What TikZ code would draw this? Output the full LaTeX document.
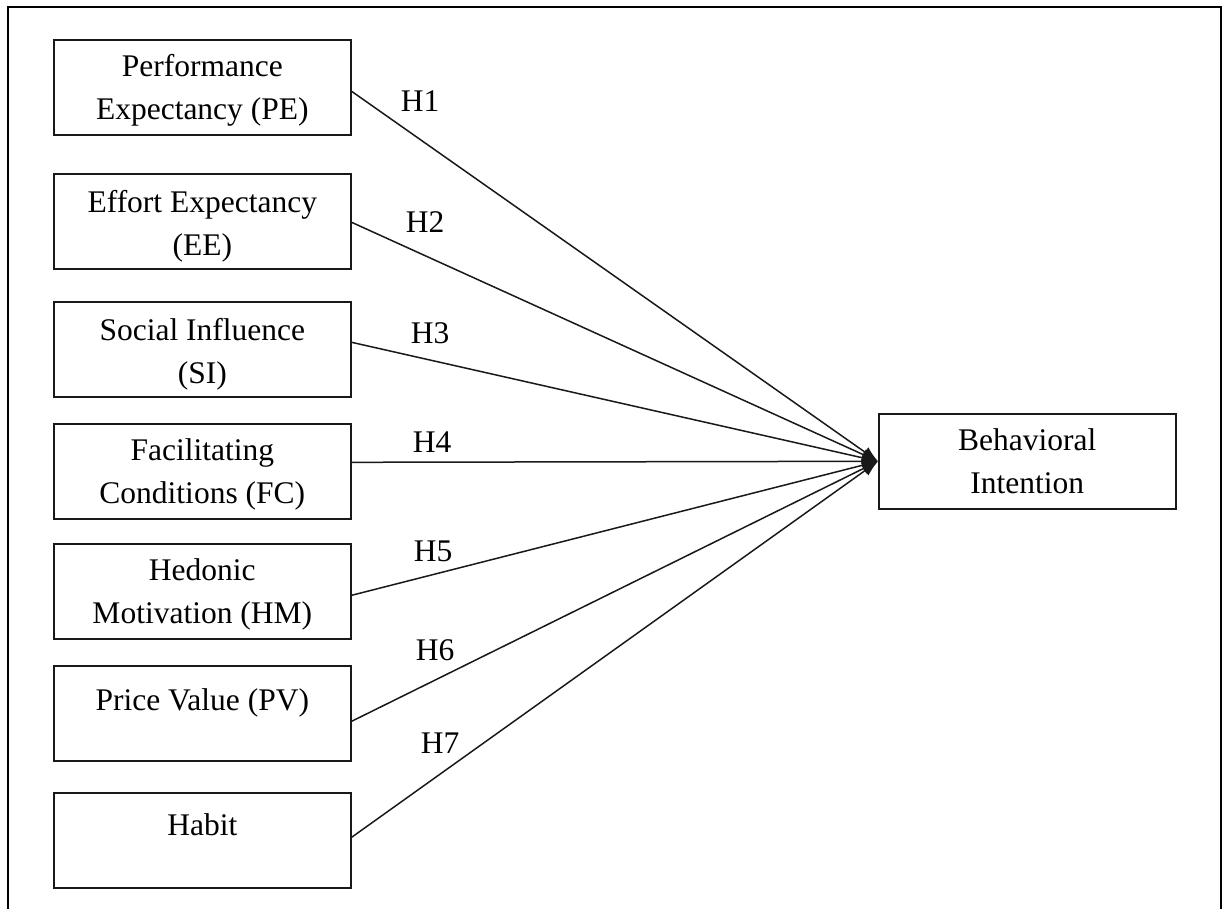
\documentclass[tikz,border=0pt]{standalone}
\usepackage{fontspec}
\setmainfont{Liberation Serif}
\usetikzlibrary{arrows.meta,calc}
\newcommand\bxt[2]{\parbox[c][95pt][t]{297pt}{\centering\rule{0pt}{#1}#2\par}}
\tikzset{
  box/.style={draw=black!90, line width=1.6pt, inner sep=0pt, anchor=north west},
  link/.style={line width=1.5pt, draw=black!90, -{Latex[length=16pt,width=12pt]}},
  hlab/.style={inner sep=0pt}
}
\begin{document}
\begin{tikzpicture}[x=1pt,y=-1pt,font=\fontsize{31.5}{43}\selectfont]
\useasboundingbox (0,0) rectangle (1230,908);
\fill[white] (0,0) rectangle (1230,908);
\draw[line width=2.2pt] (8,914) -- (8,7) -- (1221,7) -- (1221,914);

\node[box] (pe) at (53,39)  {\bxt{37pt}{Performance\\Expectancy (PE)}};
\node[box] (ee) at (53,173) {\bxt{39pt}{Effort Expectancy\\(EE)}};
\node[box] (si) at (53,301) {\bxt{39pt}{Social Influence\\(SI)}};
\node[box] (fc) at (53,423) {\bxt{37pt}{Facilitating\\Conditions (FC)}};
\node[box] (hm) at (53,543) {\bxt{37pt}{Hedonic\\Motivation (HM)}};
\node[box] (pv) at (53,665) {\bxt{45pt}{Price Value (PV)}};
\node[box] (hb) at (53,792) {\bxt{43pt}{Habit}};
\node[box] (bi) at (878,413) {\bxt{37pt}{Behavioral\\Intention}};

\draw[link] ($(pe.east)+(0,4)$) -- (bi.west);
\draw[link] ($(ee.east)+(0,1)$) -- (bi.west);
\draw[link] ($(si.east)+(0,-7)$) -- (bi.west);
\draw[link] ($(fc.east)+(0,-9)$) -- (bi.west);
\draw[link] ($(hm.east)+(0,4)$) -- (bi.west);
\draw[link] ($(pv.east)+(0,8)$) -- (bi.west);
\draw[link] ($(hb.east)+(0,-3)$) -- (bi.west);

\node[hlab] (h1) at (420,101) {H1};
\node[hlab] (h2) at (425,222) {H2};
\node[hlab] (h3) at (430,333) {H3};
\node[hlab] (h4) at (432,442) {H4};
\node[hlab] (h5) at (433,551) {H5};
\node[hlab] (h6) at (435,650) {H6};
\node[hlab] (h7) at (440,743) {H7};
\end{tikzpicture}
\end{document}
